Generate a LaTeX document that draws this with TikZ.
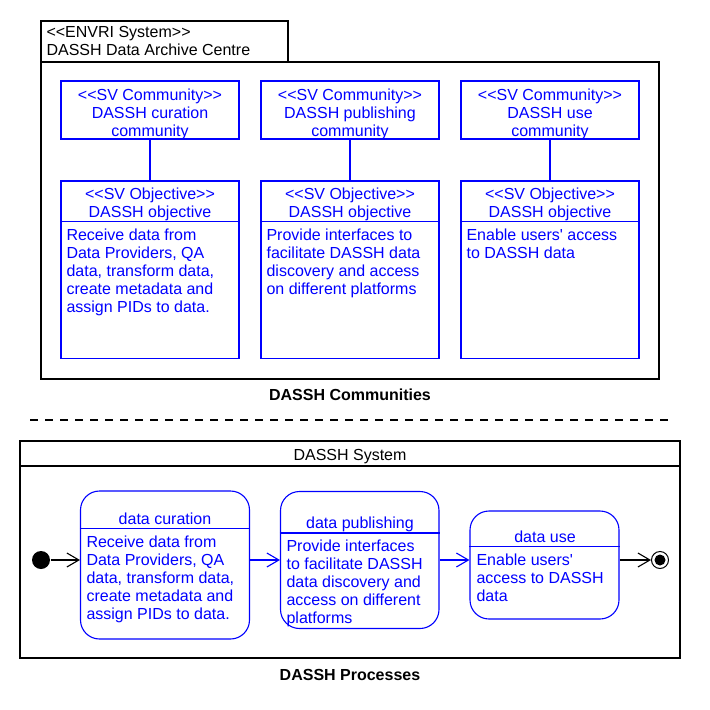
\documentclass[tikz,border=0pt]{standalone}
\usepackage{fontspec}
\setmainfont{Liberation Sans}[Ligatures=TeXOff]
\usetikzlibrary{arrows.meta}

\begin{document}
\begin{tikzpicture}[x=1pt, y=-1pt, line width=1.1pt, font=\fontsize{16}{18}\selectfont,
        comm/.style={draw=blue, minimum width=178pt, minimum height=58pt},
        obj/.style={draw=blue, minimum width=178pt, minimum height=177.5pt},
        stbox/.style={draw=blue, rounded corners=19pt},
        head/.style={text=blue, align=center, anchor=north},
        body/.style={text=blue, align=left, anchor=north west},
        caption/.style={font=\fontsize{16}{18}\selectfont\bfseries, anchor=base},
        trans/.style={-{Straight Barb[length=12pt, width=14pt]}}]
        \useasboundingbox (0,0) rectangle (710,710);

        % communities
        \draw (41,21) rectangle (288,62);
        \draw (41,62) rectangle (659,379);
        \node[anchor=north west, align=left, inner sep=0] (envri) at (46,26) {<<ENVRI System>>\\DASSH Data Archive Centre};
        \begin{scope}[every node/.style={inner sep=0}]
                \node[comm] (C1) at (150,110) {};
                \node[comm] (C2) at (350,110) {};
                \node[comm] (C3) at (550,110) {};
                \node[obj] (O1) at (150,269.75) {};
                \node[obj] (O2) at (350,269.75) {};
                \node[obj] (O3) at (550,269.75) {};

                \node[head] (C1t) at (150,88.3) {<<SV Community>>\\DASSH curation\\community};
                \node[head] (C2t) at (350,88.3) {<<SV Community>>\\DASSH publishing\\community};
                \node[head] (C3t) at (550,88.3) {<<SV Community>>\\DASSH use\\community};
                \node[head] (O1t) at (150,187.8) {<<SV Objective>>\\DASSH objective};
                \node[head] (O2t) at (350,187.8) {<<SV Objective>>\\DASSH objective};
                \node[head] (O3t) at (550,187.8) {<<SV Objective>>\\DASSH objective};
                \node[body] (O1b) at (66,228.3) {Receive data from\\Data Providers, QA\\data, transform data,\\create metadata and\\assign PIDs to data.};
                \node[body] (O2b) at (266,228.3) {Provide interfaces to\\facilitate DASSH data\\discovery and access\\on different platforms};
                \node[body] (O3b) at (466,228.3) {Enable users' access\\to DASSH data};

                \draw[blue] ([yshift=-41pt]O1.north west) -- ([yshift=-41pt]O1.north east);
                \draw[blue] ([yshift=-41pt]O2.north west) -- ([yshift=-41pt]O2.north east);
                \draw[blue] ([yshift=-41pt]O3.north west) -- ([yshift=-41pt]O3.north east);

                \path[draw=blue] (C1) edge (O1);
                \path[draw=blue] (C2) edge (O2);
                \path[draw=blue] (C3) edge (O3);
        \end{scope}
        \node[caption] (comcap) at (350,400) {DASSH Communities};

        \draw[dash pattern=on 8pt off 7pt] (30,420) -- (670,420);

        % processes
        \draw (20,441) rectangle (680,658);
        \draw (20,466) -- (680,466);
        \node[anchor=base] (sys) at (350,460) {DASSH System};
        \begin{scope}[every node/.style={inner sep=0}]
                \node[stbox, minimum width=169pt, minimum height=148pt] (cur) at (165,565) {};
                \node[stbox, minimum width=158.5pt, minimum height=137pt] (pub) at (359.75,560) {};
                \node[stbox, minimum width=149pt, minimum height=108pt] (use) at (544.5,565) {};
                \node[circle, fill, minimum size=18pt] (init) at (41,560) {};
                \node[circle, draw, line width=1pt, minimum size=17pt] (fin) at (660,560) {};
                \fill (fin.center) circle (5.5pt);

                \node[text=blue, anchor=base] (curt) at (165,524) {data curation};
                \node[text=blue, anchor=base] (pubt) at (360,528) {data publishing};
                \node[text=blue, anchor=base] (uset) at (545,542) {data use};
                \draw[blue] ([yshift=-38pt]cur.north west) -- ([yshift=-38pt]cur.north east);
                \draw[blue] ([yshift=-42pt]pub.north west) -- ([yshift=-42pt]pub.north east);
                \draw[blue] ([yshift=-36pt]use.north west) -- ([yshift=-36pt]use.north east);
                \node[body] (curb) at (86,535) {Receive data from\\Data Providers, QA\\data, transform data,\\create metadata and\\assign PIDs to data.};
                \node[body] (pubb) at (286,539) {Provide interfaces\\to facilitate DASSH\\data discovery and\\access on different\\platforms};
                \node[body] (useb) at (476,553) {Enable users'\\access to DASSH\\data};

                \draw[trans] (init) -- (init -| cur.west);
                \draw[trans, blue] (cur.east |- init) -- (pub.west |- init);
                \draw[trans, blue] (pub.east) -- (pub.east -| use.west);
                \draw[trans] (use.east |- fin) -- (fin);
        \end{scope}
        \node[caption] (procap) at (350,680) {DASSH Processes};
\end{tikzpicture}
\end{document}
